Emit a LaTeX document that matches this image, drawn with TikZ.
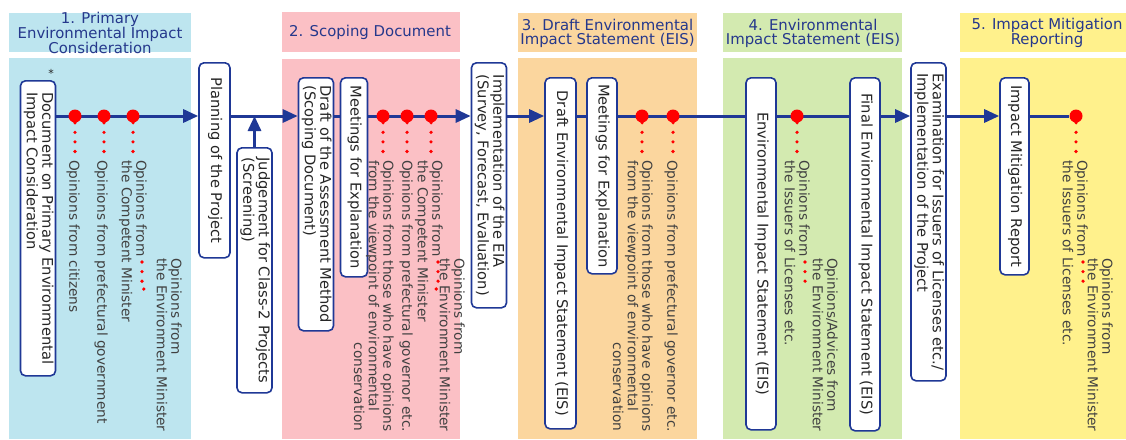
\documentclass[tikz,border=0pt]{standalone}
\usepackage{fontspec}
\setmainfont{DejaVu Sans}
\usepackage{graphicx}
\usetikzlibrary{
  arrows.meta,
  calc
}
\definecolor{eiablue}{HTML}{1F3896}
\definecolor{hdrblue}{HTML}{25388C}
\definecolor{boxtext}{HTML}{262626}
\definecolor{notetext}{HTML}{404040}
\definecolor{bgblue}{HTML}{BDE5EF}
\definecolor{bgpink}{HTML}{FBC0C5}
\definecolor{bgorange}{HTML}{FBD69E}
\definecolor{bggreen}{HTML}{D3EAB0}
\definecolor{bgyellow}{HTML}{FFF18C}
\newcommand{\vtxt}[1]{\rotatebox{-90}{\begin{tabular}{@{}l@{}}#1\end{tabular}}}

\begin{document}
\begin{tikzpicture}[
  x=1pt, y=-1pt,
  stepbox/.style={draw=eiablue, line width=1.6pt, rounded corners=5pt, fill=white,
    inner sep=2pt, anchor=north, text=boxtext, font=\fontsize{14.7}{14.5}\selectfont},
  note/.style={inner sep=0pt, anchor=north east, text=notetext,
    font=\fontsize{13.7}{14}\selectfont},
  hdr/.style={inner sep=0pt, align=center, text=hdrblue,
    font=\fontsize{14.9}{13.8}\selectfont},
  spine/.style={draw=eiablue, line width=3pt},
  flow/.style={spine, -{Triangle[length=15pt, width=13pt]}},
  opin/.style={circle, fill=red, inner sep=0pt, minimum size=13pt},
  leader/.style={draw=red, line width=3.6pt, line cap=round, dash pattern=on 0pt off 9.6pt}
]
  \fill[white] (0,0) rectangle (1126,439);
  \useasboundingbox (0,0) rectangle (1126,439);

  % stage panels
  \fill[bgblue]   (9,13) rectangle (191,52);   \fill[bgblue]   (9,58) rectangle (191,439);
  \fill[bgpink]   (282,12) rectangle (460,52); \fill[bgpink]   (282,59) rectangle (460,439);
  \fill[bgorange] (518,13) rectangle (697,52); \fill[bgorange] (518,58) rectangle (697,439);
  \fill[bggreen]  (723,13) rectangle (902,52); \fill[bggreen]  (723,58) rectangle (902,439);
  \fill[bgyellow] (960,13) rectangle (1126,52);\fill[bgyellow] (960,58) rectangle (1126,439);

  \node[hdr] (h1) at (100,33) {1. Primary\\Environmental Impact\\Consideration};
  \node[hdr] (h2) at (370,32) {2. Scoping Document};
  \node[hdr] (h3) at (607.5,33) {3. Draft Environmental\\Impact Statement (EIS)};
  \node[hdr] (h4) at (813,33) {4. Environmental\\Impact Statement (EIS)};
  \node[hdr] (h5) at (1047,33) {5. Impact Mitigation\\Reporting};

  \coordinate (ln) at (0,116);

  % procedure steps
  \node[stepbox, minimum width=34pt, minimum height=295pt] (doc) at (38,80)
    {\vtxt{Document on Primary Environmental\\Impact Consideration}};
  \node[inner sep=0pt, text=boxtext, font=\fontsize{11}{11}\selectfont] (ast) at (51,73) {*};
  \node[stepbox, minimum width=31pt, minimum height=195pt] (plan) at (214.5,62)
    {\vtxt{Planning of the Project}};
  \node[stepbox, minimum width=35pt, minimum height=245pt] (screen) at (254.5,147)
    {\vtxt{Judgement for Class-2 Projects\\(Screening)}};
  \node[stepbox, minimum width=34pt, minimum height=253pt] (scope) at (316,77)
    {\vtxt{Draft of the Assessment Method\\(Scoping Document)}};
  \node[stepbox, minimum width=27pt, minimum height=199pt] (meet1) at (354,77)
    {\vtxt{Meetings for Explanation}};
  \node[stepbox, minimum width=34pt, minimum height=245pt] (impl) at (489,62)
    {\vtxt{Implementation of the EIA\\(Survey, Forecast, Evaluation)}};
  \node[stepbox, minimum width=31pt, minimum height=351pt] (deis) at (560.5,77)
    {\vtxt{Draft Environmental Impact Statement (EIS)}};
  \node[stepbox, minimum width=30pt, minimum height=196pt] (meet2) at (602,77)
    {\vtxt{Meetings for Explanation}};
  \node[stepbox, minimum width=30pt, minimum height=352pt] (eis) at (761,77)
    {\vtxt{Environmental Impact Statement (EIS)}};
  \node[stepbox, minimum width=30pt, minimum height=353pt] (feis) at (865,77)
    {\vtxt{Final Environmental Impact Statement (EIS)}};
  \node[stepbox, minimum width=33pt, minimum height=318pt] (exam) at (928.5,62)
    {\vtxt{Examination for Issuers of Licenses etc./\\Implementation of the Project}};
  \node[stepbox, minimum width=29pt, minimum height=197pt] (imr) at (1014.5,77)
    {\vtxt{Impact Mitigation Report}};

  % main flow
  \draw[flow]  (doc.east |- ln)   -- (plan.west |- ln);
  \draw[flow]  (plan.east |- ln)  -- (scope.west |- ln);
  \draw[flow]  (screen) -- (screen |- ln);
  \draw[spine] (scope.east |- ln) -- (meet1.west |- ln);
  \draw[flow]  (meet1.east |- ln) -- (impl.west |- ln);
  \draw[flow]  (impl.east |- ln)  -- (deis.west |- ln);
  \draw[spine] (deis.east |- ln)  -- (meet2.west |- ln);
  \draw[spine] (meet2.east |- ln) -- (eis.west |- ln);
  \draw[spine] (eis.east |- ln)   -- (feis.west |- ln);
  \draw[flow]  (feis.east |- ln)  -- (exam.west |- ln);
  \draw[flow]  (exam.east |- ln)  -- (imr.west |- ln);

  % opinion points
  \node[opin] (a1) at (75,116) {};
  \node[opin] (a2) at (104,116) {};
  \node[opin] (a3) at (133,116) {};
  \node[opin] (b1) at (383,116) {};
  \node[opin] (b2) at (407,116) {};
  \node[opin] (b3) at (431,116) {};
  \node[opin] (c1) at (642,116) {};
  \node[opin] (c2) at (673,116) {};
  \node[opin] (e1) at (797,116) {};
  \node[opin] (f1) at (1076,116) {};
  \draw[spine] (imr.east |- ln) -- (f1);

  % opinions
  \node[note] (na1) at (80,160) {\vtxt{Opinions from citizens}};
  \node[note] (na2) at (108,160) {\vtxt{Opinions from prefectural government}};
  \node[note] (na3) at (147,160) {\vtxt{Opinions from\\the Competent Minister}};
  \node[note] (na4) at (182,258) {\vtxt{Opinions from\\the Environment Minister}};

  \node[note] (nb1) at (394,160) {\vtxt{Opinions from those who have opinions\\from the viewpoint of environmental\\\multicolumn{1}{@{}r@{}}{conservation}}};
  \node[note] (nb2) at (413,160) {\vtxt{Opinions from prefectural governor etc.}};
  \node[note] (nb3) at (443,160) {\vtxt{Opinions from\\the Competent Minister}};
  \node[note] (nb4) at (465,258) {\vtxt{Opinions from\\the Environment Minister}};

  \node[note] (nc1) at (653,160) {\vtxt{Opinions from those who have opinions\\from the viewpoint of environmental\\\multicolumn{1}{@{}r@{}}{conservation}}};
  \node[note] (nc2) at (678,160) {\vtxt{Opinions from prefectural governor etc.}};

  \node[note] (ne1) at (810,160) {\vtxt{Opinions from\\the Issuers of Licenses etc.}};
  \node[note] (ne2) at (838,258) {\vtxt{Opinions/Advices from\\the Environment Minister}};

  \node[note] (nf1) at (1088,160) {\vtxt{Opinions from\\the Issuers of Licenses etc.}};
  \node[note] (nf2) at (1113,258) {\vtxt{Opinions from\\the Environment Minister}};

  % dotted leaders
  \foreach \d/\n in {a1/na1, a2/na2, a3/na3, b1/nb1, b2/nb2, b3/nb3, c1/nc1, c2/nc2, e1/ne1, f1/nf1}
    \draw[leader] (\d) -- (\d |- \n.north);
  \foreach \n/\m in {na3/na4, nb3/nb4, ne1/ne2, nf1/nf2}
    \draw[leader] ($(\n.north east)+(-5,102)$) |- ($(\m.north west)+(-2,31)$);

\end{tikzpicture}
\end{document}
